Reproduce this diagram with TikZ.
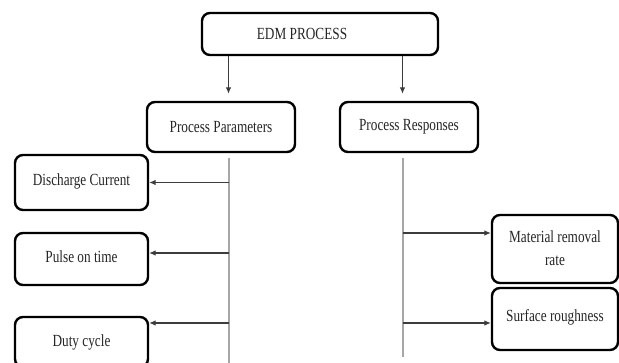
\documentclass[tikz,border=0pt]{standalone}
\usepackage{fontspec}
\setmainfont[FakeStretch=0.78]{Liberation Serif}
\usetikzlibrary{arrows.meta}
\definecolor{txt}{HTML}{262626}
\definecolor{conn}{HTML}{3C3C3C}
\definecolor{vline}{HTML}{A6A6A6}
\tikzset{
  box/.style={draw=black, line width=2.4pt, rounded corners=8pt, fill=white,
    text=txt, align=center, inner sep=2pt, font=\fontsize{17}{25}\selectfont},
  arr/.style={draw=conn, line width=1.1pt, -{Latex[length=6.5pt,width=5.5pt]}},
  trunk/.style={draw=vline, line width=2pt},
}
\begin{document}
\begin{tikzpicture}[x=1pt,y=-1pt]
\useasboundingbox[fill=white] (0,0) rectangle (619,363);
% top
\node[box, minimum width=236pt, minimum height=42pt] (edm) at (320,34) {\hspace*{-36pt}EDM PROCESS};
\node[box, minimum width=148pt, minimum height=50pt] (pp) at (221,127) {Process Parameters};
\node[box, minimum width=138pt, minimum height=50pt] (pr) at (409,127) {Process Responses};
% left boxes
\node[box, minimum width=133pt, minimum height=55pt] (dc) at (81.5,182.5) {\raisebox{5pt}{Discharge Current}};
\node[box, minimum width=133pt, minimum height=52pt] (pot) at (81.5,259) {\raisebox{4pt}{Pulse on time}};
\node[box, minimum width=133pt, minimum height=50pt] (dcy) at (81.5,342) {\raisebox{2pt}{Duty cycle}};
% right boxes
\node[box, minimum width=126pt, minimum height=68pt] (mrr) at (555,249) {\raisebox{-7pt}{\begin{tabular}{@{}c@{}}Material removal\\[-2pt]rate\end{tabular}}};
\node[box, minimum width=126pt, minimum height=62pt] (sr) at (555,319) {\raisebox{7pt}{Surface roughness}};
% trunk coordinates
\coordinate (lx) at (228.5,0);
\coordinate (rx) at (402.5,0);
\coordinate (ltop) at (228.5,158);
\coordinate (lbot) at (228.5,366);
\coordinate (rtop) at (402.5,158);
\coordinate (rbot) at (402.5,357);
% down arrows
\draw[arr, shorten >=7pt] (edm.south -| lx) -- (pp.north -| lx);
\draw[arr, shorten >=7pt] (edm.south -| rx) -- (pr.north -| rx);
% trunks
\draw[trunk] (ltop) -- (lbot);
\draw[trunk] (rtop) -- (rbot);
% left branches
\draw[arr] (dc.east -| lx) -- (dc.east);
\draw[arr] ([yshift=6pt]pot.east -| lx) -- ([yshift=6pt]pot.east);
\draw[arr] ([yshift=19pt]dcy.east -| lx) -- ([yshift=19pt]dcy.east);
% right branches
\draw[arr] ([yshift=16pt]mrr.west -| rx) -- ([yshift=16pt]mrr.west);
\draw[arr] ([yshift=-4pt]sr.west -| rx) -- ([yshift=-4pt]sr.west);
\end{tikzpicture}
\end{document}
